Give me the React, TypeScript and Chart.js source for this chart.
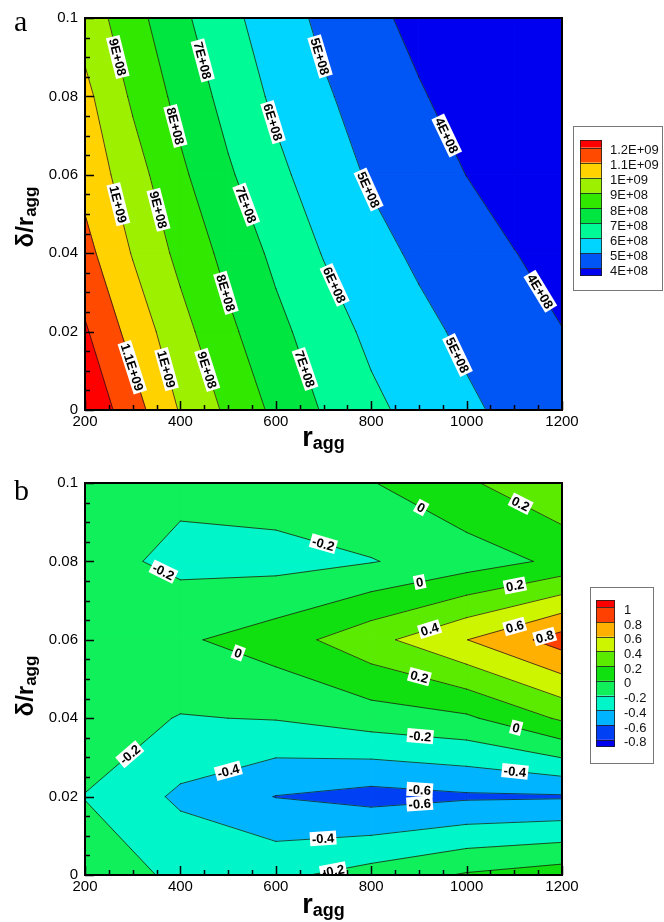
import React, { useEffect, useRef } from "react";
import { Chart, registerables } from "chart.js";
Chart.register(...registerables);

const SANS = "'Liberation Sans', Arial, sans-serif";
const SERIF = "'Liberation Serif', 'Times New Roman', serif";

// ---------- shared axes ----------
const X_TICKS = [200, 400, 600, 800, 1000, 1200];
const Y_TICKS = [0, 0.02, 0.04, 0.06, 0.08, 0.1];
const X_MINOR_STEP = 50;
const Y_MINOR_STEP = 0.005;

// ---------- panel a : grid values (units of 1E+08) ----------
const A_X = [200, 300, 400, 500, 600, 700, 800, 900, 1000, 1100, 1200];
const A_Y = [0, 0.02, 0.04, 0.06, 0.08, 0.1];
const A_ROW_000 = [12.83, 11.42, 9.92, 8.81, 7.77, 6.92, 6.23, 5.67, 5.17, 4.75, 4.36];
const A_ROW_002 = [12.12, 10.63, 9.35, 8.21, 7.27, 6.49, 5.77, 5.27, 4.8, 4.41, 4.02];
const A_ROW_004 = [11.32, 9.94, 8.73, 7.69, 6.78, 5.95, 5.34, 4.82, 4.42, 4.02, 3.69];
const A_ROW_006 = [10.67, 9.44, 8.19, 7.13, 6.24, 5.5, 4.88, 4.44, 3.99, 3.62, 3.23];
const A_ROW_008 = [10.26, 8.85, 7.69, 6.66, 5.81, 5.12, 4.59, 4.09, 3.62, 3.17, 2.71];
const A_ROW_010 = [9.59, 8.37, 7.22, 6.27, 5.46, 4.79, 4.24, 3.72, 3.22, 2.72, 2.22];
const A_UNIT = 1e8;
const A_LEVELS = [4e8, 5e8, 6e8, 7e8, 8e8, 9e8, 1e9, 1.1e9, 1.2e9];
const A_COLORS = ["#0000f0", "#0055f5", "#00d5ff", "#00fa96", "#00e640", "#30e800", "#9cf000", "#ffd200", "#ff4a00", "#ff0000"];
const A_LABEL_X = [267, 441, 682, 382, 588, 951, 280, 351, 525, 783, 493, 714, 1148, 301, 364, 456, 655, 972];
const A_LABEL_Y = [0.09, 0.089, 0.0898, 0.0722, 0.0732, 0.0696, 0.0528, 0.051, 0.0518, 0.0556, 0.0298, 0.0314, 0.0298, 0.011, 0.0102, 0.0102, 0.0102, 0.0135];
const A_LABEL_LEVEL = [9e8, 7e8, 5e8, 8e8, 6e8, 4e8, 1e9, 9e8, 7e8, 5e8, 8e8, 6e8, 4e8, 1.1e9, 1e9, 9e8, 7e8, 5e8];

// ---------- panel b : grid values ----------
const B_X = [200, 400, 600, 800, 1000, 1200];
const B_Y = [0, 0.02, 0.04, 0.06, 0.08, 0.1];
const B_ROW_000 = [-0.1, -0.235, -0.246, -0.118, 0.02, 0.1];
const B_ROW_002 = [-0.205, -0.437, -0.605, -0.675, -0.63, -0.62];
const B_ROW_004 = [-0.1, -0.21, -0.19, -0.1, -0.034, 0.23];
const B_ROW_006 = [-0.1, -0.031, 0.1, 0.333, 0.597, 0.888];
const B_ROW_008 = [-0.12, -0.252, -0.268, -0.21, -0.1, 0.043];
const B_ROW_010 = [-0.1, -0.151, -0.098, -0.01, 0.17, 0.38];
const B_LEVELS = [-0.8, -0.6, -0.4, -0.2, 0, 0.2, 0.4, 0.6, 0.8, 1];
const B_COLORS = ["#0000f0", "#0040f5", "#00b4ff", "#00f5c8", "#10f05a", "#10e010", "#5aeb00", "#cdf500", "#ffb000", "#ff4000", "#ff0000"];
const B_LABEL_X = [364, 699, 902, 1112, 902, 1101, 923, 1101, 1164, 521, 898, 301, 500, 902, 1101, 1101, 902, 902, 699, 720];
const B_LABEL_Y = [0.0773, 0.0842, 0.0931, 0.0944, 0.0745, 0.074, 0.0625, 0.0633, 0.0607, 0.0566, 0.0492, 0.0298, 0.0268, 0.0344, 0.0362, 0.026, 0.0222, 0.0176, 0.0097, 0.0013];
const B_LABEL_LEVEL = [-0.2, -0.2, 0, 0.2, 0, 0.2, 0.4, 0.6, 0.8, 0, 0.2, -0.2, -0.4, -0.2, 0, -0.4, -0.6, -0.6, -0.4, -0.2];

function fmtE(v: number): string {
  const e = Math.floor(Math.log10(v) + 1e-9);
  const m = +(v / Math.pow(10, e)).toFixed(2);
  return `${m}E+${String(e).padStart(2, "0")}`;
}
function fmtPlain(v: number): string {
  return String(+v.toFixed(2));
}

type Pt = { x: number; y: number; z: number };
type Seg = [number, number, number, number];

type Panel = {
  xs: number[];
  ys: number[];
  rows: number[][];
  levels: number[];
  colors: string[];
  labelX: number[];
  labelY: number[];
  labelLevel: number[];
  fmt: (v: number) => string;
  labelFont: number;
  letter: string;
  letterY: number;
  legend: { left: number; top: number; right: number; bottom: number; swL: number; swR: number; swT: number; swB: number; textX: number };
  xTitleY: number;
  yTitleCenter: number;
  height: number;
  padTop: number;
  padBottom: number;
};

function clipPoly(poly: Pt[], level: number, above: boolean): Pt[] {
  const out: Pt[] = [];
  const n = poly.length;
  for (let k = 0; k < n; k++) {
    const a = poly[k];
    const b = poly[(k + 1) % n];
    const ain = above ? a.z >= level : a.z <= level;
    const bin = above ? b.z >= level : b.z <= level;
    if (ain) out.push(a);
    if (ain !== bin) {
      const t = (level - a.z) / (b.z - a.z);
      out.push({ x: a.x + t * (b.x - a.x), y: a.y + t * (b.y - a.y), z: level });
    }
  }
  return out;
}

function drawField(ctx: CanvasRenderingContext2D, chart: any, p: Panel): Seg[][] {
  const sx = chart.scales.x;
  const sy = chart.scales.y;
  const px = p.xs.map((v) => sx.getPixelForValue(v));
  const py = p.ys.map((v) => sy.getPixelForValue(v));
  const segs: Seg[][] = p.levels.map(() => []);
  const cells: Pt[][] = [];
  for (let j = 0; j < p.ys.length - 1; j++) {
    for (let i = 0; i < p.xs.length - 1; i++) {
      cells.push([
        { x: px[i], y: py[j], z: p.rows[j][i] },
        { x: px[i + 1], y: py[j], z: p.rows[j][i + 1] },
        { x: px[i + 1], y: py[j + 1], z: p.rows[j + 1][i + 1] },
        { x: px[i], y: py[j + 1], z: p.rows[j + 1][i] },
      ]);
    }
  }
  ctx.lineJoin = "round";
  for (const cell of cells) {
    for (let b = 0; b <= p.levels.length; b++) {
      let poly = cell;
      if (b > 0) poly = clipPoly(poly, p.levels[b - 1], true);
      if (poly.length >= 3 && b < p.levels.length) poly = clipPoly(poly, p.levels[b], false);
      if (poly.length < 3) continue;
      ctx.beginPath();
      ctx.moveTo(poly[0].x, poly[0].y);
      for (let k = 1; k < poly.length; k++) ctx.lineTo(poly[k].x, poly[k].y);
      ctx.closePath();
      ctx.fillStyle = p.colors[b];
      ctx.strokeStyle = p.colors[b];
      ctx.lineWidth = 1;
      ctx.fill();
      ctx.stroke();
    }
  }
  // contour lines
  for (const cell of cells) {
    p.levels.forEach((L, li) => {
      const pts: { x: number; y: number; exit: boolean }[] = [];
      for (let k = 0; k < 4; k++) {
        const a = cell[k];
        const b = cell[(k + 1) % 4];
        const ain = a.z >= L;
        const bin = b.z >= L;
        if (ain !== bin) {
          const t = (L - a.z) / (b.z - a.z);
          pts.push({ x: a.x + t * (b.x - a.x), y: a.y + t * (b.y - a.y), exit: ain && !bin });
        }
      }
      for (let k = 0; k < pts.length; k++) {
        if (pts[k].exit) {
          const q = pts[(k + 1) % pts.length];
          segs[li].push([pts[k].x, pts[k].y, q.x, q.y]);
        }
      }
    });
  }
  ctx.strokeStyle = "rgba(25,25,25,0.85)";
  ctx.lineWidth = 0.9;
  ctx.lineCap = "round";
  ctx.beginPath();
  for (const list of segs) for (const s of list) {
    ctx.moveTo(s[0], s[1]);
    ctx.lineTo(s[2], s[3]);
  }
  ctx.stroke();
  return segs;
}

function drawLabels(ctx: CanvasRenderingContext2D, chart: any, p: Panel, segs: Seg[][]) {
  const sx = chart.scales.x;
  const sy = chart.scales.y;
  ctx.font = `bold ${p.labelFont}px ${SANS}`;
  ctx.textAlign = "center";
  ctx.textBaseline = "middle";
  for (let n = 0; n < p.labelX.length; n++) {
    const lv = p.labelLevel[n];
    const li = p.levels.findIndex((l) => Math.abs(l - lv) <= 1e-6 * Math.max(1, Math.abs(lv)));
    if (li < 0) continue;
    const tx = sx.getPixelForValue(p.labelX[n]);
    const ty = sy.getPixelForValue(p.labelY[n]);
    let best: { x: number; y: number; dx: number; dy: number } | null = null;
    let bd = Infinity;
    for (const s of segs[li]) {
      const dx = s[2] - s[0];
      const dy = s[3] - s[1];
      const len2 = dx * dx + dy * dy;
      if (len2 < 1e-9) continue;
      let t = ((tx - s[0]) * dx + (ty - s[1]) * dy) / len2;
      t = Math.max(0, Math.min(1, t));
      const qx = s[0] + t * dx;
      const qy = s[1] + t * dy;
      const d = (qx - tx) ** 2 + (qy - ty) ** 2;
      if (d < bd) {
        bd = d;
        best = { x: qx, y: qy, dx, dy };
      }
    }
    if (!best) continue;
    let { dx, dy } = best;
    if (dx < 0 || (dx === 0 && dy < 0)) {
      dx = -dx;
      dy = -dy;
    }
    const ang = Math.atan2(dy, dx);
    const text = p.fmt(lv);
    const w = ctx.measureText(text).width;
    const h = p.labelFont + 1;
    ctx.save();
    ctx.translate(best.x, best.y);
    ctx.rotate(ang);
    ctx.fillStyle = "#ffffff";
    ctx.fillRect(-w / 2 - 2, -h / 2, w + 4, h);
    ctx.fillStyle = "#000000";
    ctx.fillText(text, 0, 1);
    ctx.restore();
  }
}

function drawFrame(ctx: CanvasRenderingContext2D, chart: any) {
  const ca = chart.chartArea;
  const sx = chart.scales.x;
  const sy = chart.scales.y;
  ctx.save();
  ctx.strokeStyle = "#000";
  ctx.lineWidth = 1.5;
  ctx.beginPath();
  for (let v = X_TICKS[0]; v <= X_TICKS[X_TICKS.length - 1] + 1e-9; v += X_MINOR_STEP) {
    const x = Math.round(sx.getPixelForValue(v)) + 0.5;
    const major = X_TICKS.some((t) => Math.abs(t - v) < 1e-9);
    ctx.moveTo(x, ca.bottom);
    ctx.lineTo(x, ca.bottom - (major ? 9 : 5));
  }
  const ny = Math.round((Y_TICKS[Y_TICKS.length - 1] - Y_TICKS[0]) / Y_MINOR_STEP);
  for (let k = 0; k <= ny; k++) {
    const v = Y_TICKS[0] + k * Y_MINOR_STEP;
    const y = Math.round(sy.getPixelForValue(v)) + 0.5;
    const major = k % 4 === 0;
    ctx.moveTo(ca.left, y);
    ctx.lineTo(ca.left + (major ? 9 : 5), y);
  }
  ctx.stroke();
  ctx.lineWidth = 2;
  ctx.strokeRect(ca.left, ca.top, ca.right - ca.left, ca.bottom - ca.top);
  ctx.restore();
}

function drawLegend(ctx: CanvasRenderingContext2D, p: Panel) {
  const L = p.legend;
  const n = p.levels.length;
  const u = (L.swB - L.swT) / n;
  ctx.save();
  ctx.fillStyle = "#fff";
  ctx.fillRect(L.left, L.top, L.right - L.left, L.bottom - L.top);
  ctx.strokeStyle = "#777";
  ctx.lineWidth = 1;
  ctx.strokeRect(L.left + 0.5, L.top + 0.5, L.right - L.left, L.bottom - L.top);
  const w = L.swR - L.swL;
  ctx.fillStyle = p.colors[n];
  ctx.fillRect(L.swL, L.swT, w, u / 2);
  for (let k = 0; k < n - 1; k++) {
    ctx.fillStyle = p.colors[n - 1 - k];
    ctx.fillRect(L.swL, L.swT + u / 2 + k * u, w, u);
  }
  ctx.fillStyle = p.colors[0];
  ctx.fillRect(L.swL, L.swT + u / 2 + (n - 1) * u, w, u / 2);
  ctx.strokeStyle = "rgba(30,30,30,0.8)";
  ctx.beginPath();
  for (let k = 0; k < n; k++) {
    const y = Math.round(L.swT + u / 2 + k * u) + 0.5;
    ctx.moveTo(L.swL, y);
    ctx.lineTo(L.swR, y);
  }
  ctx.stroke();
  ctx.strokeRect(L.swL + 0.5, L.swT + 0.5, w - 1, L.swB - L.swT - 1);
  ctx.fillStyle = "#111";
  ctx.font = `13px ${SANS}`;
  ctx.textAlign = "left";
  ctx.textBaseline = "middle";
  for (let k = 0; k < n; k++) {
    const lv = p.levels[n - 1 - k];
    ctx.fillText(p.fmt(lv), L.textX, L.swT + u / 2 + k * u + 3);
  }
  ctx.restore();
}

function drawTitles(ctx: CanvasRenderingContext2D, chart: any, p: Panel) {
  const ca = chart.chartArea;
  ctx.save();
  ctx.fillStyle = "#000";
  ctx.textBaseline = "alphabetic";
  ctx.textAlign = "left";
  // x title r_agg
  ctx.font = `bold 27px ${SANS}`;
  const wr = ctx.measureText("r").width;
  ctx.font = `bold 18px ${SANS}`;
  const wa = ctx.measureText("agg").width;
  const cx = (ca.left + ca.right) / 2;
  const x0 = cx - (wr + wa) / 2;
  ctx.font = `bold 27px ${SANS}`;
  ctx.fillText("r", x0, p.xTitleY);
  ctx.font = `bold 18px ${SANS}`;
  ctx.fillText("agg", x0 + wr, p.xTitleY + 3);
  // y title δ/r_agg rotated
  ctx.font = `bold 24px ${SANS}`;
  const wm = ctx.measureText("δ/r").width;
  ctx.font = `bold 17px ${SANS}`;
  const ws = ctx.measureText("agg").width;
  ctx.translate(33, p.yTitleCenter);
  ctx.rotate(-Math.PI / 2);
  const s0 = -(wm + ws) / 2;
  ctx.font = `bold 24px ${SANS}`;
  ctx.fillText("δ/r", s0, 0);
  ctx.font = `bold 17px ${SANS}`;
  ctx.fillText("agg", s0 + wm, 3);
  ctx.restore();
  // panel letter
  ctx.save();
  ctx.fillStyle = "#000";
  ctx.font = `30px ${SERIF}`;
  ctx.textAlign = "left";
  ctx.textBaseline = "alphabetic";
  ctx.fillText(p.letter, 14, p.letterY);
  ctx.restore();
}

function makePlugin(p: Panel) {
  return {
    id: "contourPanel",
    afterDraw(chart: any) {
      const ctx: CanvasRenderingContext2D = chart.ctx;
      const ca = chart.chartArea;
      ctx.save();
      ctx.beginPath();
      ctx.rect(ca.left, ca.top, ca.right - ca.left, ca.bottom - ca.top);
      ctx.clip();
      const segs = drawField(ctx, chart, p);
      drawLabels(ctx, chart, p, segs);
      ctx.restore();
      drawFrame(ctx, chart);
      drawLegend(ctx, p);
      drawTitles(ctx, chart, p);
    },
  };
}

function makeConfig(p: Panel): any {
  return {
    type: "scatter",
    data: { datasets: [] },
    options: {
      animation: false,
      responsive: false,
      maintainAspectRatio: false,
      events: [],
      layout: { padding: { left: 40, top: p.padTop, right: 102, bottom: p.padBottom } },
      plugins: { legend: { display: false }, tooltip: { enabled: false }, title: { display: false } },
      scales: {
        x: {
          type: "linear",
          min: X_TICKS[0],
          max: X_TICKS[X_TICKS.length - 1],
          afterBuildTicks: (s: any) => {
            s.ticks = X_TICKS.map((v) => ({ value: v }));
          },
          afterFit: (s: any) => {
            s.height = 30;
          },
          ticks: {
            color: "#000",
            font: { family: SANS, size: 15 },
            padding: 3,
            maxRotation: 0,
            autoSkip: false,
            callback: (v: any) => String(v),
          },
          grid: { display: false, drawTicks: false },
          border: { display: false },
        },
        y: {
          type: "linear",
          min: Y_TICKS[0],
          max: Y_TICKS[Y_TICKS.length - 1],
          afterBuildTicks: (s: any) => {
            s.ticks = Y_TICKS.map((v) => ({ value: v }));
          },
          afterFit: (s: any) => {
            s.width = 45;
          },
          ticks: {
            color: "#000",
            font: { family: SANS, size: 15 },
            padding: 7,
            autoSkip: false,
            callback: (v: any) => fmtPlain(Number(v)),
          },
          grid: { display: false, drawTicks: false },
          border: { display: false },
        },
      },
    },
    plugins: [makePlugin(p)],
  };
}

const PANEL_A: Panel = {
  xs: A_X,
  ys: A_Y,
  rows: [A_ROW_000, A_ROW_002, A_ROW_004, A_ROW_006, A_ROW_008, A_ROW_010].map((r) => r.map((v) => v * A_UNIT)),
  levels: A_LEVELS,
  colors: A_COLORS,
  labelX: A_LABEL_X,
  labelY: A_LABEL_Y,
  labelLevel: A_LABEL_LEVEL,
  fmt: fmtE,
  labelFont: 13,
  letter: "a",
  letterY: 31,
  legend: { left: 573, top: 126, right: 662, bottom: 290, swL: 580, swR: 602, swT: 140, swB: 276, textX: 610 },
  xTitleY: 446,
  yTitleCenter: 217,
  height: 460,
  padTop: 18,
  padBottom: 20,
};

const PANEL_B: Panel = {
  xs: B_X,
  ys: B_Y,
  rows: [B_ROW_000, B_ROW_002, B_ROW_004, B_ROW_006, B_ROW_008, B_ROW_010],
  levels: B_LEVELS,
  colors: B_COLORS,
  labelX: B_LABEL_X,
  labelY: B_LABEL_Y,
  labelLevel: B_LABEL_LEVEL,
  fmt: fmtPlain,
  labelFont: 13,
  letter: "b",
  letterY: 40,
  legend: { left: 590, top: 127, right: 653, bottom: 303, swL: 596, swR: 615, swT: 140, swB: 287, textX: 624 },
  xTitleY: 453,
  yTitleCenter: 226,
  height: 462,
  padTop: 23,
  padBottom: 17,
};

function ContourCanvas({ panel, top }: { panel: Panel; top: number }) {
  const ref = useRef<HTMLCanvasElement>(null);
  useEffect(() => {
    const c = new Chart(ref.current as HTMLCanvasElement, makeConfig(panel));
    return () => c.destroy();
  }, [panel]);
  return (
    <canvas
      ref={ref}
      width={664}
      height={panel.height}
      style={{ position: "absolute", left: 0, top, width: 664, height: panel.height }}
    />
  );
}

export default function App() {
  return (
    <div style={{ position: "absolute", left: 0, top: 0, width: 664, height: 922, background: "#fff", overflow: "hidden" }}>
      <ContourCanvas panel={PANEL_A} top={0} />
      <ContourCanvas panel={PANEL_B} top={460} />
    </div>
  );
}
